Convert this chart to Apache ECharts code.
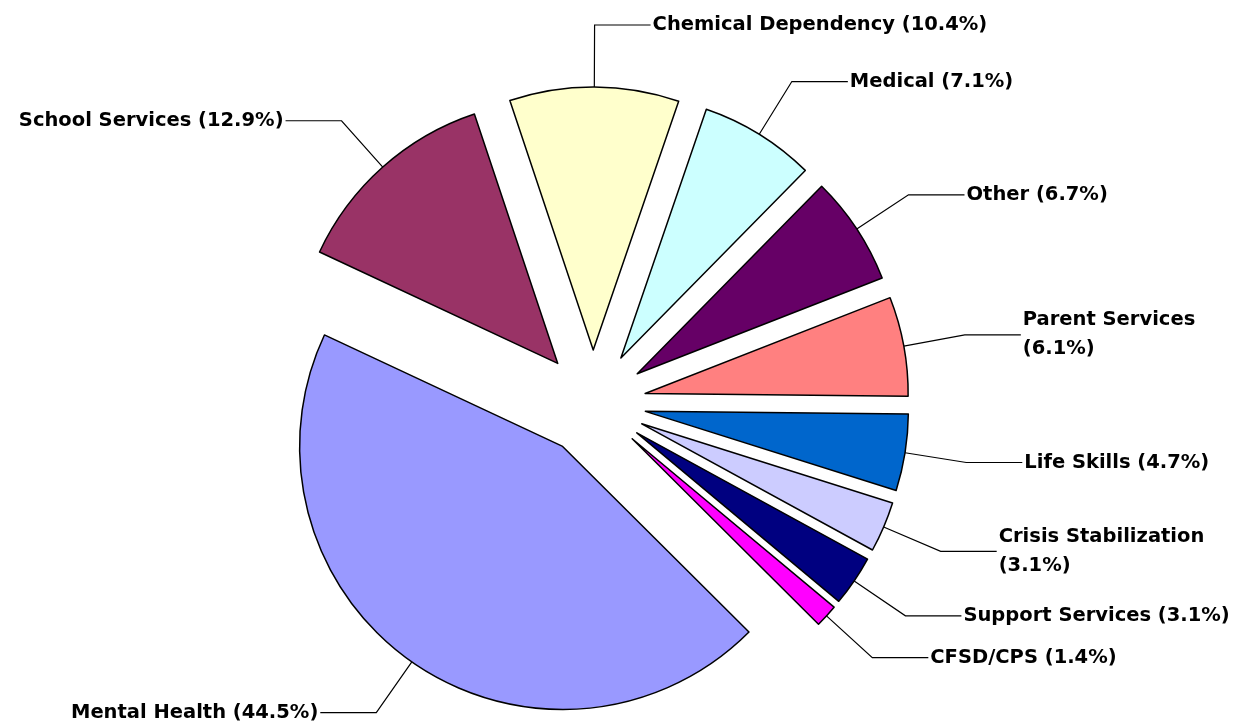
<!DOCTYPE html>
<html><head><meta charset="utf-8">
<script src="https://cdn.jsdelivr.net/npm/echarts@6/dist/echarts.min.js"></script>
<style>html,body{margin:0;padding:0;background:#fff}#c{width:1246px;height:727px}</style>
</head><body><div id="c"></div>
<script>
const categories = ['Life Skills','Crisis Stabilization','Support Services','CFSD/CPS','Mental Health','School Services','Chemical Dependency','Medical','Other','Parent Services'];
const values = [4.7,3.1,3.1,1.4,44.5,12.9,10.4,7.1,6.7,6.1];
const colors = ['#0066CC','#CCCCFF','#000080','#FF00FF','#9999FF','#993366','#FFFFCC','#CCFFFF','#660066','#FF8080'];
const wrapped = ['Crisis Stabilization','Parent Services'];

const chart = echarts.init(document.getElementById('c'), null, {renderer:'canvas'});
const data = categories.map((name,i)=>({name:name, value:values[i], selected:true, itemStyle:{color:colors[i]}}));
chart.setOption({
  animation:false,
  backgroundColor:'#fff',
  series:[{
    type:'pie',
    center:[593,403],
    radius:263,
    startAngle:-0.6,
    clockwise:true,
    selectedMode:'multiple',
    selectedOffset:53,
    avoidLabelOverlap:false,
    itemStyle:{borderColor:'#000',borderWidth:1.5},
    emphasis:{disabled:true},
    label:{
      show:true,
      position:'outside',
      fontFamily:'DejaVu Sans',
      fontWeight:'bold',
      fontSize:19.5,
      lineHeight:29,
      color:'#000',
      distanceToLabelLine:2,
      formatter:function(p){
        const pct='('+p.value.toFixed(1)+'%)';
        return wrapped.indexOf(p.name)>=0 ? p.name+'\n'+pct : p.name+' '+pct;
      }
    },
    labelLine:{show:true,length:62,length2:56,smooth:false,lineStyle:{color:'#000',width:1.2}},
    data:data
  }]
});
</script></body></html>
